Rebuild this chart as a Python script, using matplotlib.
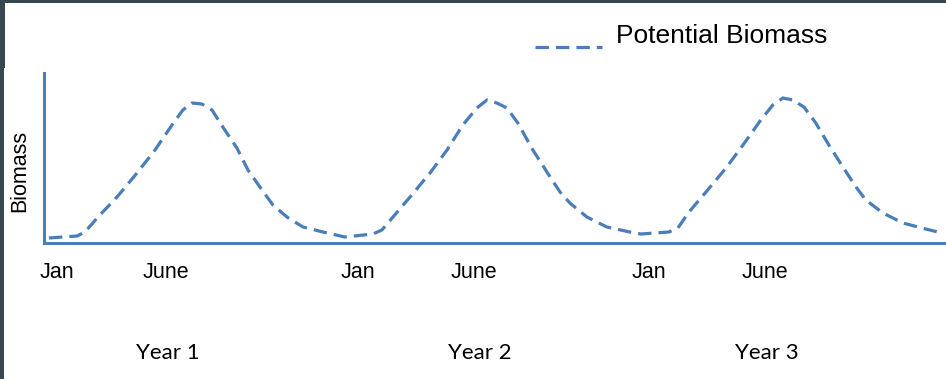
import matplotlib.pyplot as plt
from matplotlib.lines import Line2D
from matplotlib.patches import Rectangle

# curve: month since first Jan, biomass (arbitrary units)
months = [0.00, 1.14, 1.46, 1.99, 2.76, 3.57, 4.30, 4.99, 5.43, 5.80, 6.20, 6.61,
          7.05, 7.62, 8.07, 8.64, 9.08, 9.65, 10.30, 11.11, 12.00,
          13.13, 13.50, 13.95, 14.64, 15.45, 16.14, 16.78, 17.35, 17.76, 18.16,
          18.57, 19.01, 19.62, 20.19, 20.72, 21.12, 21.81, 22.62, 23.55, 24.00,
          25.14, 25.50, 25.95, 26.64, 27.45, 28.14, 28.86, 29.35, 29.76, 30.16,
          30.61, 31.09, 31.62, 32.19, 32.72, 33.12, 33.81, 34.62, 35.55, 36.04]
biomass = [5, 7, 11, 26, 46, 70, 93, 118, 133, 140, 139, 133,
           116, 95, 73, 53, 38, 26, 16, 11, 6,
           9, 13, 26, 46, 70, 93, 118, 135, 143, 140,
           135, 120, 93, 71, 51, 40, 26, 16, 11, 9,
           11, 15, 31, 51, 75, 98, 123, 138, 145, 143,
           136, 120, 98, 76, 56, 43, 30, 20, 14, 11]

month_ticks = [0.34, 4.76, 12.51, 17.25, 24.34, 29.02]
month_labels = ['Jan', 'June', 'Jan', 'June', 'Jan', 'June']
year_pos = [4.82, 17.47, 29.10]
year_labels = ['Year 1', 'Year 2', 'Year 3']

BLUE = '#4a7ebb'
DARK = '#37474f'
W, H = 946, 379

fig = plt.figure(figsize=(W / 100, H / 100), dpi=100)
ax = fig.add_axes([44 / W, (H - 243) / H, (W - 44) / W, 170 / H])

ax.plot(months, biomass, color=BLUE, lw=2.3, dashes=(4.2, 2.2))
ax.set_xlim(-0.2, 36.37)
ax.set_ylim(0, 170)

for side in ['top', 'right']:
    ax.spines[side].set_visible(False)
for side in ['left', 'bottom']:
    ax.spines[side].set_color(BLUE)
    ax.spines[side].set_linewidth(2.2)

ax.set_yticks([])
ax.set_xticks(month_ticks, month_labels, fontsize=15.5, fontfamily='Liberation Sans')
ax.tick_params(axis='x', length=0, pad=14)

for x, lab in zip(year_pos, year_labels):
    ax.text(x, -0.682, lab, transform=ax.get_xaxis_transform(), ha='center',
            va='baseline', fontsize=16, fontfamily='Lato')

fig.text(20 / W, 1 - 171 / H, 'Biomass', rotation=90, ha='center', va='center',
         fontsize=15.5, fontfamily='Liberation Sans')

# legend drawn by hand
fig.add_artist(Line2D([535 / W, 602 / W], [1 - 47 / H, 1 - 47 / H], color=BLUE,
                      lw=2.3, dashes=(4.2, 2.2)))
fig.text(616 / W, 1 - 43 / H, 'Potential Biomass', ha='left', va='baseline',
         fontsize=19, fontfamily='Liberation Sans')

# dark frame edges of the screenshot
fig.add_artist(Rectangle((0, 1 - 3 / H), 1, 3 / H, transform=fig.transFigure,
                         color=DARK, lw=0))
fig.add_artist(Rectangle((0, 1 - 68 / H), 5 / W, 68 / H, transform=fig.transFigure,
                         color=DARK, lw=0))
fig.add_artist(Rectangle((0, 0), 4 / W, 1 - 68 / H, transform=fig.transFigure,
                         color=DARK, lw=0))

fig.savefig('out.png', dpi=100)
